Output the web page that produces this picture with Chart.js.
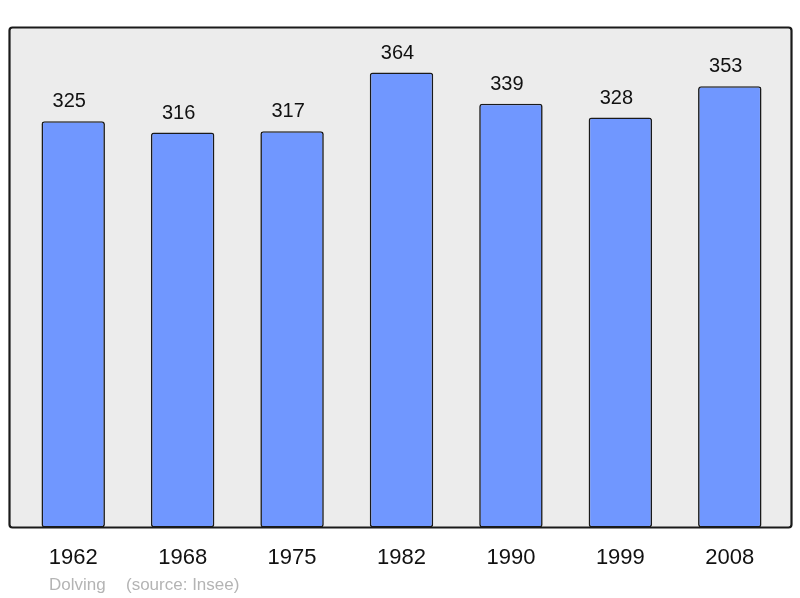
<!DOCTYPE html>
<html>
<head>
<meta charset="utf-8">
<script src="https://cdn.jsdelivr.net/npm/chart.js@4"></script>
<style>
    html, body { margin: 0; padding: 0; background: #ffffff; }
    #wrap { width: 800px; height: 598px; }
</style>
</head>
<body>
<div id="wrap"><canvas id="grafico" width="800" height="598"></canvas></div>
<script>
const annees = ["1962", "1968", "1975", "1982", "1990", "1999", "2008"];
const population = [325, 316, 317, 364, 339, 328, 353];
const echelleMax = 400;
const auteur = "Dolving";
const source = "(source: Insee)";

// Fond gris + cadre arrondi autour de la zone du graphique
const cadre = {
    id: "cadre",
    beforeDatasetsDraw(chart) {
        const { ctx, chartArea } = chart;
        ctx.save();
        ctx.beginPath();
        ctx.roundRect(chartArea.left - 9, chartArea.top, chartArea.width + 16, chartArea.height, 3);
        ctx.fillStyle = "#ececec";
        ctx.fill();
        ctx.restore();
    },
    afterDatasetsDraw(chart) {
        const { ctx, chartArea } = chart;

        // valeurs au-dessus des barres (un peu décalées à gauche, comme l'original)
        ctx.save();
        ctx.font = "20px 'Liberation Sans', Arial, sans-serif";
        ctx.fillStyle = "#111111";
        ctx.textAlign = "center";
        ctx.textBaseline = "alphabetic";
        chart.getDatasetMeta(0).data.forEach((barre, i) => {
            ctx.fillText(population[i], barre.x - 4, barre.y - 14);
        });

        ctx.beginPath();
        ctx.roundRect(chartArea.left - 9, chartArea.top, chartArea.width + 16, chartArea.height, 3);
        ctx.lineWidth = 2.2;
        ctx.strokeStyle = "#1a1a1a";
        ctx.stroke();

        // pied de page
        ctx.font = "17px 'Liberation Sans', Arial, sans-serif";
        ctx.fillStyle = "#b4b4b4";
        ctx.textAlign = "left";
        ctx.fillText(auteur, 49, 590);
        ctx.fillText(source, 126, 590);
        ctx.restore();
    }
};

new Chart(
    document.getElementById("grafico"),
    {
        type: "bar",
        data: {
            labels: annees,
            datasets: [{
                data: population,
                backgroundColor: "#7097ff",
                borderColor: "#1a1a1a",
                borderWidth: 1.6,
                borderSkipped: false,
                borderRadius: 3,
                barPercentage: 0.58,
                categoryPercentage: 1
            }]
        },
        options: {
            responsive: false,
            animation: false,
            layout: {
                padding: { left: 18.5, right: 15.5, top: 27.5, bottom: 0 }
            },
            plugins: {
                legend: { display: false },
                tooltip: { enabled: false }
            },
            scales: {
                x: {
                    grid: { display: false, drawTicks: false },
                    border: { display: false },
                    ticks: {
                        color: "#111111",
                        padding: 17,
                        font: { family: "'Liberation Sans', Arial, sans-serif", size: 22 }
                    },
                    afterFit(scale) { scale.height = 70.5; }
                },
                y: {
                    display: false,
                    min: 0,
                    max: echelleMax
                }
            }
        },
        plugins: [cadre]
    }
);
</script>
</body>
</html>
